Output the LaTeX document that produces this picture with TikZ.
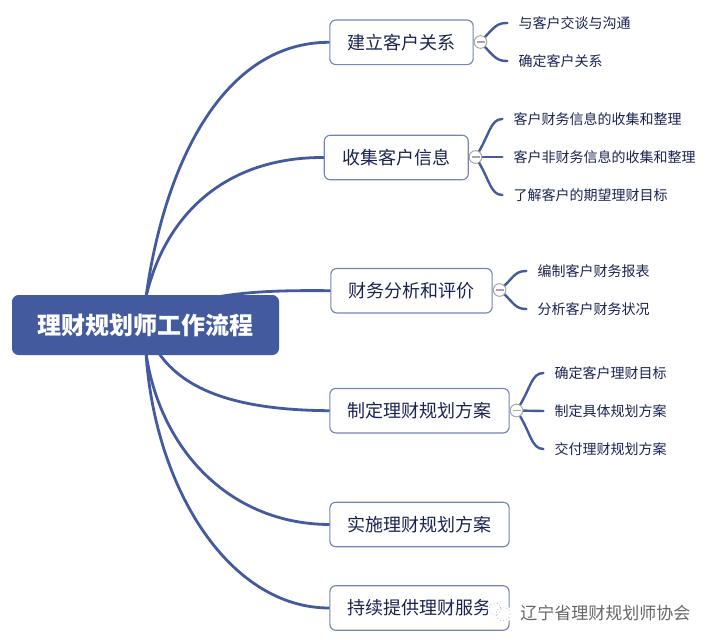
\documentclass[tikz,border=0pt]{standalone}
\usepackage{fontspec}
\setmainfont{Noto Sans CJK SC}
\usetikzlibrary{backgrounds}
\definecolor{navy}{HTML}{435A9E}
\definecolor{boxline}{HTML}{7484B8}
\definecolor{subtext}{HTML}{1A2350}
\definecolor{foldgray}{HTML}{A6A6A6}
\tikzset{
  x=0.75pt,y=-0.75pt,
  rootbox/.style={fill=navy,rounded corners=5pt,minimum width=200.25pt,minimum height=45pt,inner sep=0pt,
    text=white,font=\fontsize{18}{20}\selectfont\bfseries},
  mainbox/.style={draw=boxline,line width=0.85pt,fill=white,rounded corners=4.5pt,minimum height=33.4pt,inner sep=0pt,
    text=subtext,font=\fontsize{13.5}{16}\selectfont},
  sublabel/.style={anchor=west,inner ysep=0pt,inner xsep=8.25pt,text=subtext,font=\fontsize{10.5}{12}\selectfont},
  foldmark/.style={circle,draw=foldgray,line width=0.75pt,fill=white,minimum size=9.5pt,inner sep=0pt},
  foldbar/.style={foldgray,line width=1.1pt},
  trunk/.style={navy,line width=2.1pt,line cap=round},
  twig/.style={navy,line width=1.8pt,line cap=round},
}
\begin{document}
\begin{tikzpicture}
\useasboundingbox (0,0) rectangle (711,643);
\node[rootbox] (root) at (145.5,325) {理财规划师工作流程};
\coordinate (rt) at (146,297);
\coordinate (rb) at (146,353);
\node[mainbox,minimum width=107.5pt] (a) at (401.5,42.3) {建立客户关系};
\node[mainbox,minimum width=108pt] (b) at (396.3,157.5) {收集客户信息};
\node[mainbox,minimum width=121pt] (c) at (411.5,290.7) {财务分析和评价};
\node[mainbox,minimum width=134.5pt] (d) at (419.5,410.7) {制定理财规划方案};
\node[mainbox,minimum width=134.5pt] (e) at (419.5,524.5) {实施理财规划方案};
\node[mainbox,minimum width=134.5pt] (f) at (419.5,608) {持续提供理财服务};

\node[foldmark] (fa) at (480.5,42) {};
\node[foldmark] (fb) at (475.5,157) {};
\node[foldmark] (fc) at (499.5,290) {};
\node[foldmark] (fd) at (516.5,410.5) {};
\foreach \m in {fa,fb,fc,fd}
  \draw[foldbar] ([xshift=-3pt]\m.center) -- ([xshift=3pt]\m.center);

\node[sublabel] (a1) at (507.4,23) {与客户交谈与沟通};
\node[sublabel] (a2) at (507.4,61) {确定客户关系};
\node[sublabel] (b1) at (502.4,119) {客户财务信息的收集和整理};
\node[sublabel] (b2) at (502.4,157) {客户非财务信息的收集和整理};
\node[sublabel] (b3) at (502.4,195) {了解客户的期望理财目标};
\node[sublabel] (c1) at (526.4,271) {编制客户财务报表};
\node[sublabel] (c2) at (526.4,309) {分析客户财务状况};
\node[sublabel] (d1) at (543.4,373) {确定客户理财目标};
\node[sublabel] (d2) at (543.4,411) {制定具体规划方案};
\node[sublabel] (d3) at (543.4,449) {交付理财规划方案};

\begin{pgfonlayer}{background}
\draw[trunk] (rt) .. controls (165,160) and (225,42) .. (a.west);
\draw[trunk] (rt) .. controls (165,215) and (225,157) .. (b.west);
\draw[trunk] (root.center) .. controls (190,292) and (260,290) .. (c.west);
\draw[trunk] (root.center) .. controls (165,390) and (235,410) .. (d.west);
\draw[trunk] (rb) .. controls (160,450) and (230,524) .. (e.west);
\draw[trunk] (rb) .. controls (155,490) and (230,608) .. (f.west);
\draw[twig] (fa.center) .. controls (495,26) and (497,23) .. (a1.west);
\draw[twig] (fa.center) .. controls (495,58) and (497,61) .. (a2.west);
\draw[twig] (fb.center) .. controls (490,135) and (490,119) .. (b1.west);
\draw[twig] (fb.center) -- (b2.west);
\draw[twig] (fb.center) .. controls (490,179) and (490,195) .. (b3.west);
\draw[twig] (fc.center) .. controls (514,278) and (514,271) .. (c1.west);
\draw[twig] (fc.center) .. controls (514,302) and (514,309) .. (c2.west);
\draw[twig] (fd.center) .. controls (531,389) and (531,373) .. (d1.west);
\draw[twig] (fd.center) -- (d2.west);
\draw[twig] (fd.center) .. controls (531,432) and (531,449) .. (d3.west);
\end{pgfonlayer}

% watermark
\fill[white] (494,609) circle (6.5);
\fill[white] (503,614) circle (9);
\draw[foldgray,line width=0.5pt,dotted] (495,609) circle (6);
\draw[foldgray,line width=0.5pt,dotted] (503,614) circle (7);
\node[anchor=west,inner sep=0pt,text=black!60,font=\fontsize{12.75}{15}\selectfont] (wm) at (520,613) {辽宁省理财规划师协会};
\end{tikzpicture}
\end{document}
